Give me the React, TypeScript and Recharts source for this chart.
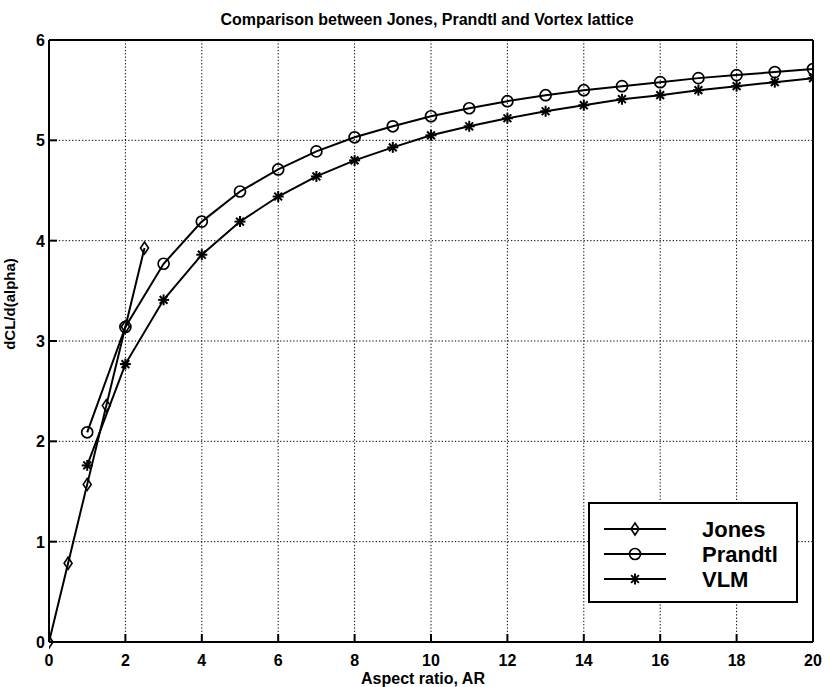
import React from 'react';
import { LineChart, Line, XAxis, YAxis, CartesianGrid, Legend } from 'recharts';

const titleText = 'Comparison between Jones, Prandtl and Vortex lattice';
const xLabel = 'Aspect ratio, AR';
const yLabel = 'dCL/d(alpha)';

const xTicks = [0, 2, 4, 6, 8, 10, 12, 14, 16, 18, 20];
const yTicks = [0, 1, 2, 3, 4, 5, 6];

const jonesAR = [0, 0.5, 1, 1.5, 2, 2.5];
const jonesCL = [0, 0.785, 1.571, 2.356, 3.142, 3.927];

const prandtlAR = [1, 2, 3, 4, 5, 6, 7, 8, 9, 10, 11, 12, 13, 14, 15, 16, 17, 18, 19, 20];
const prandtlCL = [2.09, 3.14, 3.77, 4.19, 4.49, 4.71, 4.89, 5.03, 5.14, 5.24, 5.32, 5.39, 5.45, 5.50, 5.54, 5.58, 5.62, 5.65, 5.68, 5.71];

const vlmAR = [1, 2, 3, 4, 5, 6, 7, 8, 9, 10, 11, 12, 13, 14, 15, 16, 17, 18, 19, 20];
const vlmCL = [1.76, 2.77, 3.41, 3.86, 4.19, 4.44, 4.64, 4.80, 4.93, 5.05, 5.14, 5.22, 5.29, 5.35, 5.41, 5.45, 5.50, 5.54, 5.58, 5.62];

const seriesNames = ['Jones', 'Prandtl', 'VLM'];

const jonesData = jonesAR.map((x, i) => ({ x, y: jonesCL[i] }));
const prandtlData = prandtlAR.map((x, i) => ({ x, y: prandtlCL[i] }));
const vlmData = vlmAR.map((x, i) => ({ x, y: vlmCL[i] }));

const FONT = "Arial, 'Liberation Sans', Helvetica, sans-serif";
const TICK_LEN = 8;
const LINE_W = 2;

const Diamond = ({ cx, cy }: { cx: number; cy: number }) => (
  <polygon
    points={`${cx},${cy - 6} ${cx + 4},${cy} ${cx},${cy + 6} ${cx - 4},${cy}`}
    fill="none"
    stroke="#000"
    strokeWidth={1.6}
  />
);
const Circ = ({ cx, cy }: { cx: number; cy: number }) => (
  <circle cx={cx} cy={cy} r={5.5} fill="none" stroke="#000" strokeWidth={1.7} />
);
const Star = ({ cx, cy }: { cx: number; cy: number }) => {
  const r = 5.5;
  const d = r * 0.707;
  return (
    <g stroke="#000" strokeWidth={2}>
      <line x1={cx - r} y1={cy} x2={cx + r} y2={cy} />
      <line x1={cx} y1={cy - r} x2={cx} y2={cy + r} />
      <line x1={cx - d} y1={cy - d} x2={cx + d} y2={cy + d} />
      <line x1={cx - d} y1={cy + d} x2={cx + d} y2={cy - d} />
    </g>
  );
};
const markers = [Diamond, Circ, Star];

const LeftTick = (props: any) => {
  const { x, y, payload } = props;
  const ax = x + 4;
  return (
    <g>
      <line x1={ax} y1={y} x2={ax + TICK_LEN} y2={y} stroke="#000" strokeWidth={2} />
      <text x={x} y={y + 6} textAnchor="end" fontFamily={FONT} fontWeight="bold" fontSize={16} fill="#000">
        {payload.value}
      </text>
    </g>
  );
};
const RightTick = (props: any) => {
  const { x, y } = props;
  return <line x1={x} y1={y} x2={x - TICK_LEN} y2={y} stroke="#000" strokeWidth={2} />;
};
const BottomTick = (props: any) => {
  const { x, y, payload } = props;
  return (
    <g>
      <line x1={x} y1={y} x2={x} y2={y - TICK_LEN} stroke="#000" strokeWidth={2} />
      <text x={x} y={y + 24} textAnchor="middle" fontFamily={FONT} fontWeight="bold" fontSize={16} fill="#000">
        {payload.value}
      </text>
    </g>
  );
};
const TopTick = (props: any) => {
  const { x, y } = props;
  return <line x1={x} y1={y} x2={x} y2={y + TICK_LEN} stroke="#000" strokeWidth={2} />;
};

const LegendBox = () => (
  <div
    style={{
      width: 210,
      height: 101,
      border: '2px solid #000',
      background: '#fff',
      boxSizing: 'border-box',
      position: 'relative',
    }}
  >
    <svg width={206} height={97} style={{ position: 'absolute', left: 0, top: 0 }}>
      {seriesNames.map((name, i) => {
        const M = markers[i];
        const cy = 25 + i * 25;
        return (
          <g key={name}>
            <line x1={14} y1={cy} x2={76} y2={cy} stroke="#000" strokeWidth={LINE_W} />
            <M cx={45} cy={cy} />
            <text x={112} y={cy + 8} fontFamily={FONT} fontWeight="bold" fontSize={22} fill="#000">
              {name}
            </text>
          </g>
        );
      })}
    </svg>
  </div>
);

export default function App() {
  const W = 825;
  const H = 687;
  return (
    <div style={{ position: 'absolute', left: 0, top: 0, width: W, height: H, background: '#fff' }}>
      <LineChart width={W} height={H} margin={{ top: 30, right: 2, bottom: 15, left: 9 }}>
        <CartesianGrid xAxisId="b" yAxisId="l" stroke="#000" strokeWidth={1} strokeDasharray="1.3 2" />
        <XAxis
          xAxisId="b"
          type="number"
          dataKey="x"
          domain={[0, 20]}
          ticks={xTicks}
          allowDataOverflow
          height={30}
          tickLine={false}
          tickSize={0}
          tickMargin={0}
          axisLine={{ stroke: '#000', strokeWidth: 2 }}
          tick={<BottomTick />}
        />
        <XAxis
          xAxisId="t"
          orientation="top"
          type="number"
          dataKey="x"
          domain={[0, 20]}
          ticks={xTicks}
          height={10}
          tickLine={false}
          tickSize={0}
          tickMargin={0}
          axisLine={{ stroke: '#000', strokeWidth: 2 }}
          tick={<TopTick />}
        />
        <YAxis
          yAxisId="l"
          type="number"
          domain={[0, 6]}
          ticks={yTicks}
          width={40}
          tickLine={false}
          tickSize={0}
          tickMargin={4}
          axisLine={{ stroke: '#000', strokeWidth: 2 }}
          tick={<LeftTick />}
        />
        <YAxis
          yAxisId="r"
          orientation="right"
          type="number"
          domain={[0, 6]}
          ticks={yTicks}
          width={10}
          tickLine={false}
          tickSize={0}
          tickMargin={0}
          axisLine={{ stroke: '#000', strokeWidth: 2 }}
          tick={<RightTick />}
        />
        <Line
          xAxisId="b"
          yAxisId="l"
          data={jonesData}
          dataKey="y"
          name={seriesNames[0]}
          stroke="#000"
          strokeWidth={LINE_W}
          isAnimationActive={false}
          dot={(p: any) => <Diamond key={`j${p.index}`} cx={p.cx} cy={p.cy} />}
        />
        <Line
          xAxisId="b"
          yAxisId="l"
          data={prandtlData}
          dataKey="y"
          name={seriesNames[1]}
          stroke="#000"
          strokeWidth={LINE_W}
          isAnimationActive={false}
          dot={(p: any) => <Circ key={`p${p.index}`} cx={p.cx} cy={p.cy} />}
        />
        <Line
          xAxisId="b"
          yAxisId="l"
          data={vlmData}
          dataKey="y"
          name={seriesNames[2]}
          stroke="#000"
          strokeWidth={LINE_W}
          isAnimationActive={false}
          dot={(p: any) => <Star key={`v${p.index}`} cx={p.cx} cy={p.cy} />}
        />
        <Legend
          layout="horizontal"
          verticalAlign="middle"
          align="center"
          content={<LegendBox />}
          wrapperStyle={{ left: 588, top: 502, width: 210, height: 101 }}
        />
        <text x={427} y={25} textAnchor="middle" fontFamily={FONT} fontWeight="bold" fontSize={16} fill="#000">
          {titleText}
        </text>
        <text x={423} y={684} textAnchor="middle" fontFamily={FONT} fontWeight="bold" fontSize={16} fill="#000">
          {xLabel}
        </text>
        <text
          x={15}
          y={304}
          textAnchor="middle"
          transform="rotate(-90 15 304)"
          fontFamily={FONT}
          fontWeight="bold"
          fontSize={15}
          fill="#000"
        >
          {yLabel}
        </text>
      </LineChart>
    </div>
  );
}
